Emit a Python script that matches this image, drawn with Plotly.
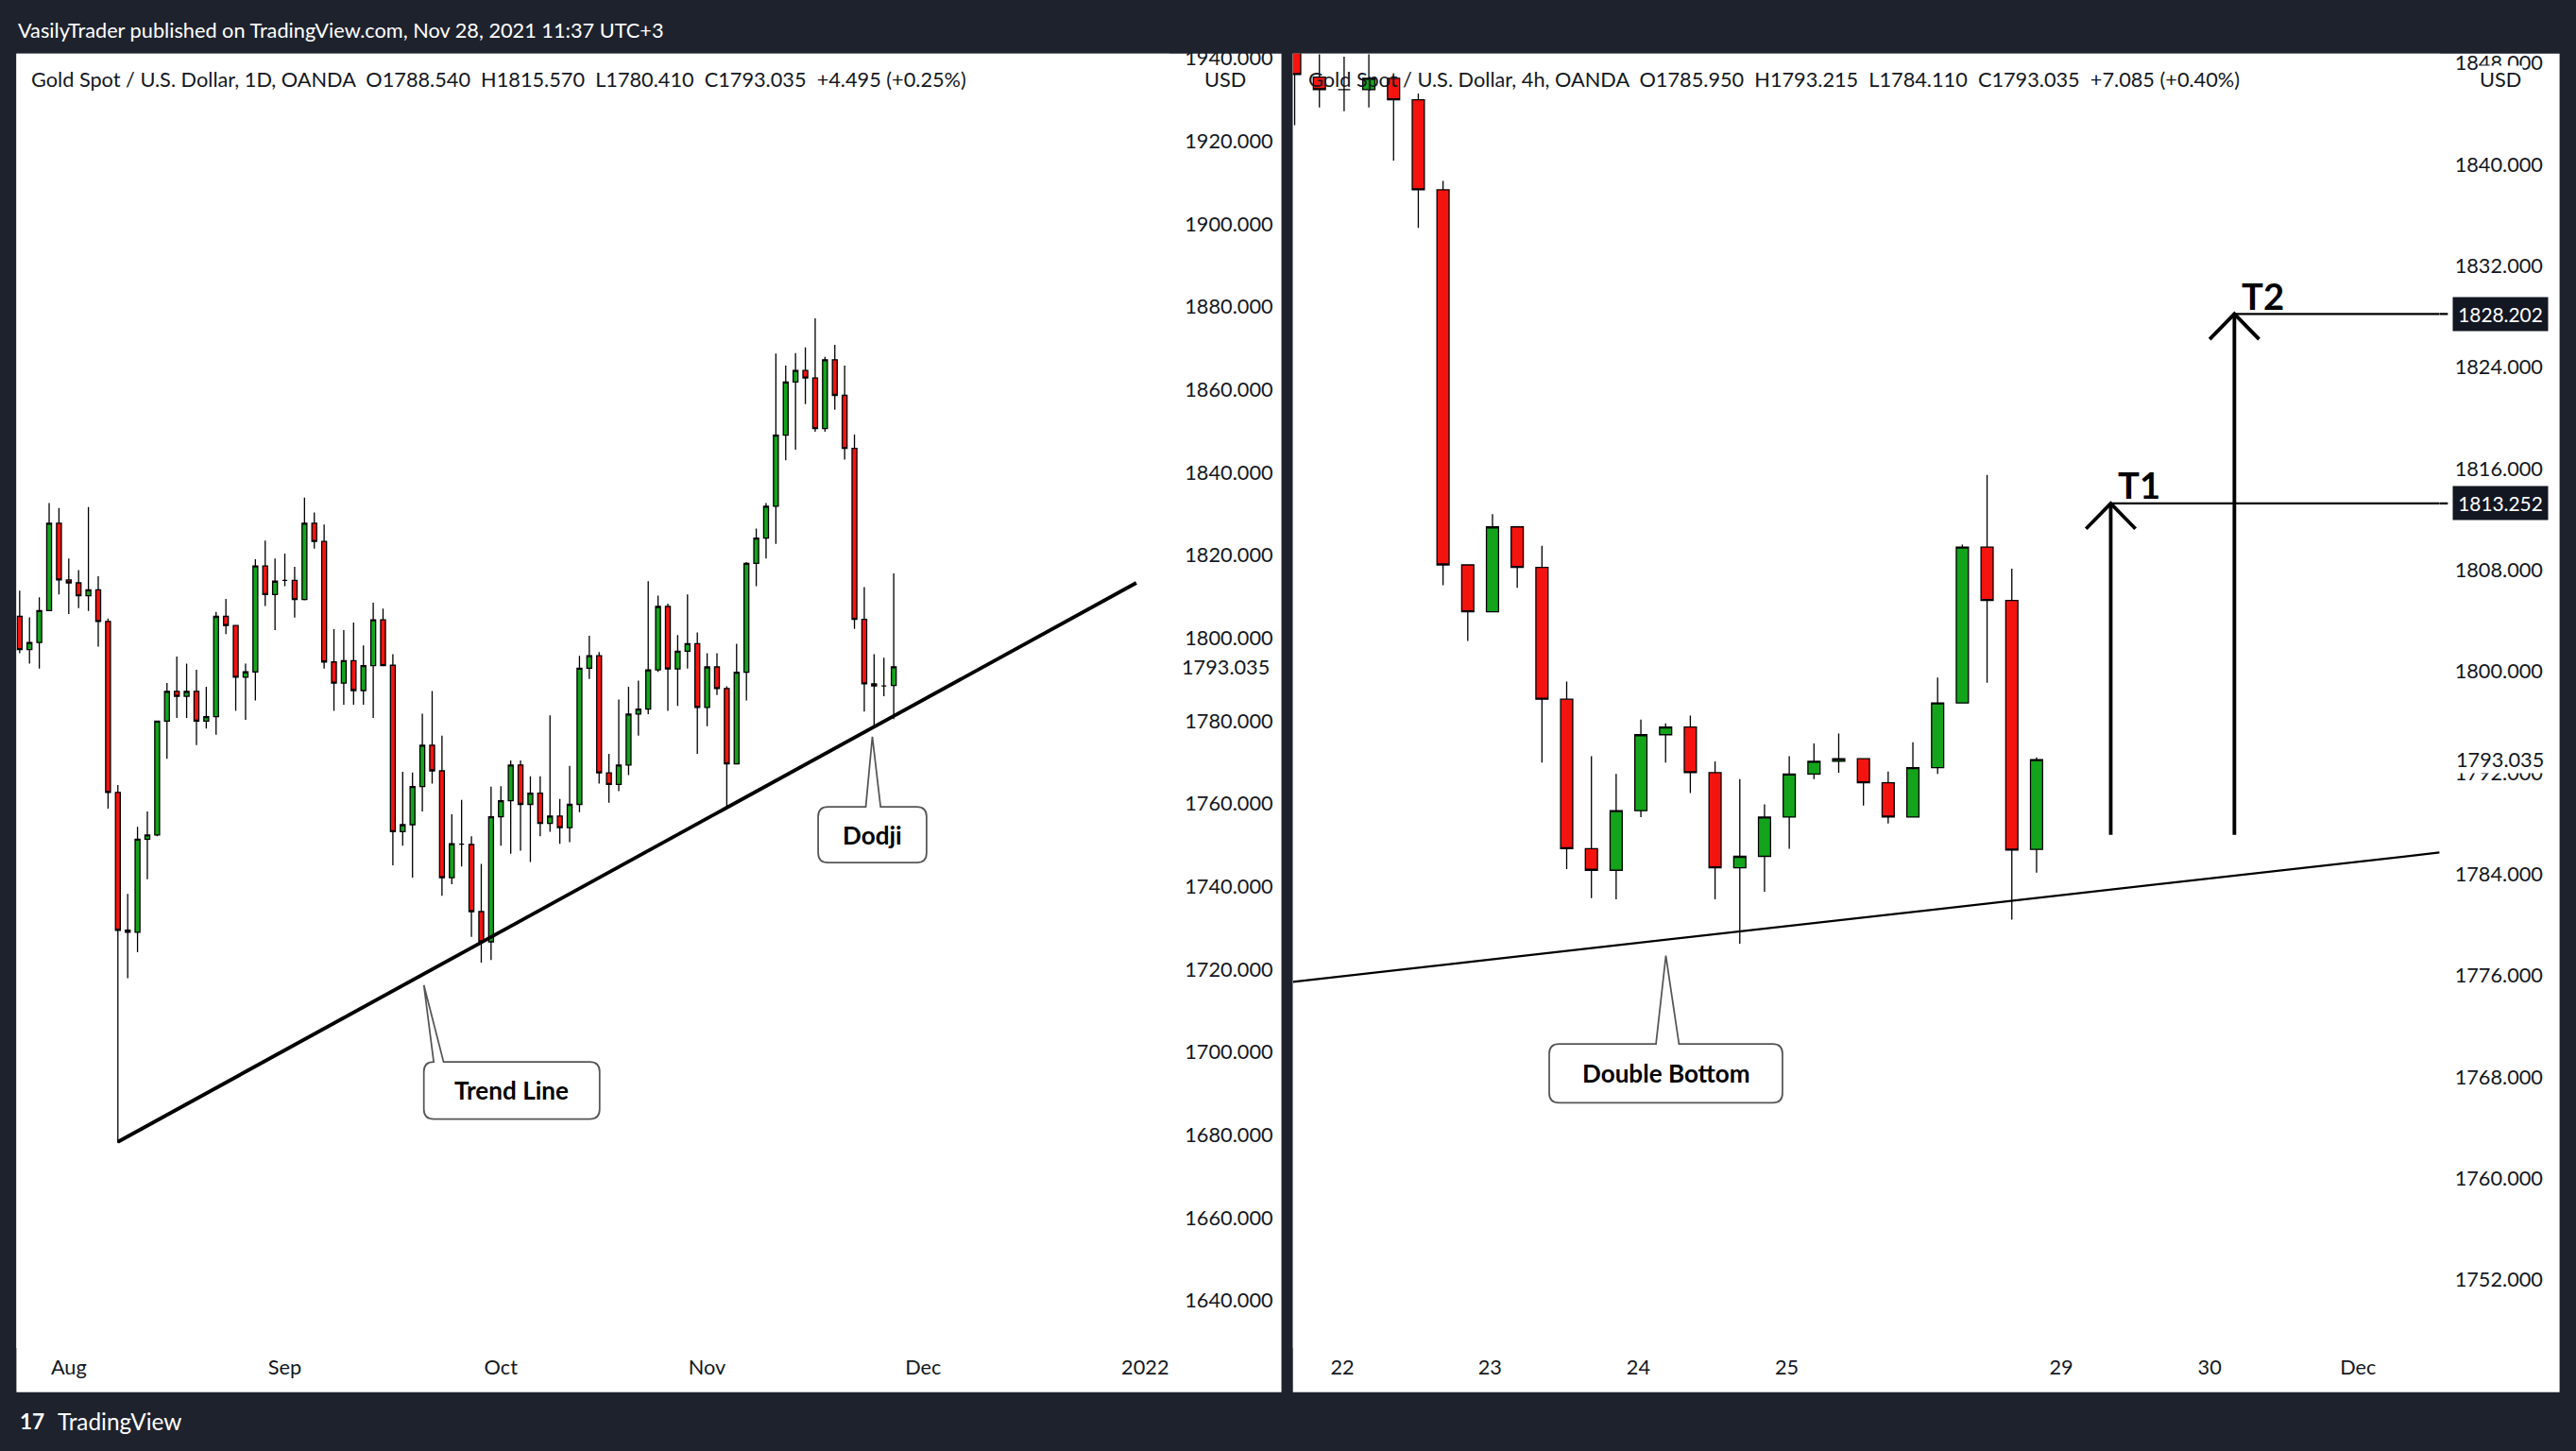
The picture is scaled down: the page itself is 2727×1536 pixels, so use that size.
import plotly.graph_objects as go

W, H = 2727, 1536
S = W / 1568.0
FONT = "Lato"
DARK = "#1e222d"
GREEN = "#13a41c"
RED = "#f4140f"
TXT = "#131722"

# ---------------- Daily data (Gold Spot, 1D) ----------------
d_open = [1805.2,1797.2,1798.9,1806.6,1827.7,1814.0,1813.3,1810.2,1811.6,1804.0,
          1762.7,1729.4,1728.9,1751.4,1752.4,1779.9,1787.1,1785.9,1787.1,1779.9,
          1781.0,1805.2,1803.0,1790.5,1791.8,1817.4,1810.5,1813.9,1813.9,1809.3,
          1827.7,1823.3,1794.2,1789.1,1794.5,1787.3,1793.3,1804.4,1793.4,1753.2,
          1754.9,1764.1,1774.1,1767.9,1742.1,1750.2,1750.1,1733.9,1726.6,1756.8,
          1760.7,1769.3,1759.8,1762.5,1755.2,1757.0,1754.2,1759.8,1792.7,1795.7,
          1767.4,1764.6,1769.3,1781.6,1782.8,1792.3,1807.6,1792.5,1796.8,1798.6,
          1783.2,1793.0,1787.8,1769.6,1791.7,1818.0,1824.1,1831.8,1849.0,1861.8,
          1864.6,1862.8,1850.6,1867.2,1858.6,1845.8,1804.5,1788.9,1788.4,1788.54]
d_high = [1811.4,1805.0,1809.8,1832.6,1831.4,1819.2,1816.4,1831.6,1814.9,1804.7,
          1764.5,1738.2,1754.4,1758.1,1779.9,1789.1,1795.5,1793.8,1792.3,1788.2,
          1806.3,1809.4,1803.0,1793.8,1819.0,1823.5,1819.2,1820.4,1817.2,1833.9,
          1830.3,1827.4,1802.1,1801.9,1803.7,1798.2,1808.5,1807.1,1796.1,1767.7,
          1767.5,1781.7,1787.2,1776.4,1757.4,1760.9,1752.1,1745.4,1764.1,1764.2,
          1770.4,1770.4,1766.6,1766.6,1781.3,1761.1,1769.1,1795.7,1800.5,1796.6,
          1772.0,1785.1,1788.2,1789.7,1813.7,1810.2,1808.3,1800.7,1810.5,1801.3,
          1796.3,1796.3,1788.3,1798.6,1818.3,1826.4,1832.6,1868.7,1865.8,1868.8,
          1870.2,1877.2,1867.9,1870.8,1865.8,1849.1,1812.3,1796.1,1795.2,1815.57]
d_low = [1796.3,1793.8,1792.6,1806.6,1810.5,1805.8,1807.2,1806.5,1797.9,1758.8,
         1678.0,1717.8,1724.1,1741.7,1752.1,1770.8,1780.7,1780.7,1774.1,1778.1,
         1776.6,1800.9,1782.4,1780.2,1784.9,1807.7,1801.9,1812.5,1804.9,1809.1,
         1821.6,1792.6,1782.4,1783.9,1783.9,1783.9,1780.7,1793.3,1745.1,1749.8,
         1742.1,1758.1,1764.8,1737.7,1740.5,1744.8,1727.8,1721.6,1722.2,1749.8,
         1747.9,1748.6,1745.9,1752.1,1753.2,1750.3,1750.7,1757.9,1790.1,1764.8,
         1760.2,1763.0,1766.9,1776.4,1781.6,1791.8,1782.4,1783.6,1792.6,1772.0,
         1778.7,1786.2,1758.8,1769.6,1784.9,1812.5,1819.2,1822.7,1842.9,1845.5,
         1856.5,1849.8,1849.8,1855.1,1843.1,1802.2,1782.2,1778.7,1785.9,1780.41]
d_close = [1797.2,1798.9,1806.6,1827.7,1814.0,1813.3,1810.2,1811.6,1804.0,1762.7,
           1729.4,1728.9,1751.4,1752.4,1779.9,1787.1,1785.9,1787.1,1779.9,1781.0,
           1805.2,1803.0,1790.5,1791.8,1817.4,1810.5,1813.7,1813.9,1809.3,1827.7,
           1823.3,1794.2,1789.1,1794.5,1787.3,1793.3,1804.4,1793.3,1753.2,1754.9,
           1764.1,1774.1,1767.9,1742.1,1750.3,1750.2,1733.9,1726.6,1756.8,1760.7,
           1769.3,1759.8,1762.5,1755.2,1757.0,1754.2,1759.8,1792.7,1795.7,1767.4,
           1764.6,1769.3,1781.6,1782.8,1792.3,1807.6,1792.5,1796.8,1798.6,1783.2,
           1793.0,1787.8,1769.6,1791.7,1818.0,1824.1,1831.8,1849.0,1861.8,1864.6,
           1862.8,1850.6,1867.2,1858.6,1845.8,1804.5,1788.9,1788.4,1788.4,1793.035]
d_ticks_pos = [5, 27, 49, 70, 92, 114.6]
d_ticks_txt = ["Aug", "Sep", "Oct", "Nov", "Dec", "2022"]
d_price_ticks = list(range(1640, 1941, 20))

# ---------------- 4h data ----------------
h_open = [1850.0,1846.9,1845.9,1845.9,1846.8,1845.1,1838.0,1808.4,1804.7,1811.4,
          1808.2,1797.8,1786.0,1784.3,1789.0,1795.0,1795.6,1792.0,1784.5,1785.4,
          1788.5,1791.9,1792.9,1793.1,1791.2,1788.5,1792.4,1797.5,1809.8,1805.6,1785.95]
h_high = [1851.0,1848.7,1848.5,1848.7,1847.0,1845.6,1838.7,1808.4,1812.4,1811.4,
          1809.9,1799.2,1793.3,1791.9,1796.2,1795.9,1796.5,1792.9,1791.5,1789.5,
          1793.3,1794.3,1795.1,1793.1,1792.1,1794.4,1799.5,1810.0,1815.5,1808.1,1793.215]
h_low = [1843.1,1844.5,1844.2,1844.5,1840.3,1835.0,1806.8,1802.4,1804.7,1806.6,
         1792.8,1784.4,1782.1,1782.0,1788.5,1792.8,1790.4,1782.0,1778.5,1782.6,
         1786.0,1791.5,1792.0,1789.4,1788.0,1788.5,1791.9,1797.5,1799.1,1780.4,1784.11]
h_close = [1847.1,1845.9,1845.9,1846.8,1845.1,1838.0,1808.4,1804.7,1811.4,1808.2,
           1797.8,1786.0,1784.3,1789.0,1795.0,1795.6,1792.0,1784.5,1785.4,1788.5,
           1791.9,1792.9,1793.1,1791.2,1788.5,1792.4,1797.5,1809.8,1805.6,1785.9,1793.035]
h_ticks_pos = [1.93, 7.9, 13.9, 19.9, 31.0, 37.0, 43.0]
h_ticks_txt = ["22", "23", "24", "25", "29", "30", "Dec"]
h_price_ticks = list(range(1752, 1849, 8))

# drawings
d_trend = [(10.0, 1678.3), (113.7, 1813.3)]
h_trend = [(-0.07, 1775.5), (46.3, 1785.7)]
targets = [("T1", 33.0, 1787.1, 1813.252), ("T2", 38.0, 1787.1, 1828.202)]


def px(x):
    return x / 1568.0


def py(y):
    return 1 - y / 883.0


fig = go.Figure()
common = dict(whiskerwidth=0, showlegend=False, hoverinfo="skip",
              increasing=dict(line=dict(color="black", width=1.3), fillcolor=GREEN),
              decreasing=dict(line=dict(color="black", width=1.3), fillcolor=RED))
fig.add_trace(go.Candlestick(x=list(range(len(d_open))), open=d_open, high=d_high,
                             low=d_low, close=d_close, xaxis="x", yaxis="y", **common))
fig.add_trace(go.Candlestick(x=list(range(len(h_open))), open=h_open, high=h_high,
                             low=h_low, close=h_close, xaxis="x2", yaxis="y2", **common))

tf = dict(family=FONT, size=12.5 * S, color=TXT)
ax_common = dict(showgrid=False, zeroline=False, showline=False, ticks="",
                 tickfont=tf, rangeslider=dict(visible=False), fixedrange=True,
                 ticklabelstandoff=int(3 * S))
ydom = [py(820), py(28)]
fig.update_layout(
    width=W, height=H, margin=dict(l=0, r=0, t=0, b=0),
    paper_bgcolor=DARK, plot_bgcolor="white",
    xaxis=dict(domain=[px(10), px(712)], range=[-0.33, 117.1], tickvals=d_ticks_pos,
               ticktext=d_ticks_txt, anchor="y", **ax_common),
    yaxis=dict(domain=ydom, range=[1628.5, 1941.2], side="right", anchor="x",
               tickvals=d_price_ticks, ticktext=["%.3f" % v for v in d_price_ticks],
               showgrid=False, zeroline=False, ticks="", tickfont=tf, ticklabelstandoff=int(9 * S)),
    xaxis2=dict(domain=[px(787), px(1485)], range=[-0.07, 46.3], tickvals=h_ticks_pos,
                ticktext=h_ticks_txt, anchor="y2", **ax_common),
    yaxis2=dict(domain=ydom, range=[1746.6, 1848.77], side="right", anchor="x2",
                tickvals=h_price_ticks, ticktext=["%.3f" % v for v in h_price_ticks],
                showgrid=False, zeroline=False, ticks="", tickfont=tf, ticklabelstandoff=int(9 * S)),
)

shapes = []
shapes.append(dict(type="rect", xref="paper", yref="paper", x0=px(10), x1=px(780),
                   y0=py(847), y1=py(28), fillcolor="white", line_width=0, layer="below"))
shapes.append(dict(type="rect", xref="paper", yref="paper", x0=px(787), x1=px(1558),
                   y0=py(847), y1=py(28), fillcolor="white", line_width=0, layer="below"))
shapes.append(dict(type="rect", xref="paper", yref="paper", x0=0, x1=1, y0=py(28), y1=1,
                   fillcolor=DARK, line_width=0, layer="above"))

shapes.append(dict(type="line", xref="x", yref="y", x0=d_trend[0][0], y0=d_trend[0][1],
                   x1=d_trend[1][0], y1=d_trend[1][1], line=dict(color="black", width=2.2 * S)))
shapes.append(dict(type="line", xref="x2", yref="y2", x0=h_trend[0][0], y0=h_trend[0][1],
                   x1=h_trend[1][0], y1=h_trend[1][1], line=dict(color="black", width=1.3 * S)))

annotations = []
for name, xi, y0, y1 in targets:
    shapes.append(dict(type="line", xref="x2", yref="y2", x0=xi, x1=xi, y0=y0, y1=y1,
                       line=dict(color="black", width=2.2 * S)))
    shapes.append(dict(type="path", xref="x2", yref="y2",
                       path="M %f,%f L %f,%f L %f,%f" % (xi - 1, y1 - 2.0, xi, y1, xi + 1, y1 - 2.0),
                       line=dict(color="black", width=2.2 * S)))
    shapes.append(dict(type="line", xref="x2", yref="y2", x0=xi, x1=46.3, y0=y1, y1=y1,
                       line=dict(color="black", width=1.3 * S)))
    shapes.append(dict(type="line", xref="paper", yref="y2", x0=px(1485), x1=px(1490), y0=y1, y1=y1,
                       line=dict(color="black", width=1.3 * S)))
    annotations.append(dict(xref="x2", yref="y2", x=xi + 0.2, y=y1 - 0.4, text="<b>%s</b>" % name,
                            showarrow=False, xanchor="left", yanchor="bottom",
                            font=dict(family=FONT, size=22 * S, color="black")))
    annotations.append(dict(xref="paper", yref="y2", x=px(1522), y=y1, text="%.3f" % y1,
                            showarrow=False, bgcolor="#131722", borderpad=3 * S,
                            xanchor="center", yanchor="middle",
                            font=dict(family=FONT, size=12 * S, color="white")))


def callout(x0, y0, x1, y1, ax, ay, bl, br, r=6):
    p = "M %f,%f " % (px(x0 + r), py(y0))
    p += "L %f,%f L %f,%f L %f,%f " % (px(bl), py(y0), px(ax), py(ay), px(br), py(y0))
    p += "L %f,%f Q %f,%f %f,%f " % (px(x1 - r), py(y0), px(x1), py(y0), px(x1), py(y0 + r))
    p += "L %f,%f Q %f,%f %f,%f " % (px(x1), py(y1 - r), px(x1), py(y1), px(x1 - r), py(y1))
    p += "L %f,%f Q %f,%f %f,%f " % (px(x0 + r), py(y1), px(x0), py(y1), px(x0), py(y1 - r))
    p += "L %f,%f Q %f,%f %f,%f Z" % (px(x0), py(y0 + r), px(x0), py(y0), px(x0 + r), py(y0))
    return dict(type="path", xref="paper", yref="paper", path=p, fillcolor="white",
                line=dict(color="#555555", width=1 * S))


for (x0, y0, x1, y1, ax, ay, bl, br, label) in [
        (258, 645, 365, 680, 258, 598, 264, 270, "Trend Line"),
        (498, 489, 564, 523, 531, 446, 527, 536, "Dodji"),
        (943, 634, 1085, 670, 1014, 580, 1008, 1022, "Double Bottom")]:
    shapes.append(callout(x0, y0, x1, y1, ax, ay, bl, br))
    annotations.append(dict(xref="paper", yref="paper", x=px((x0 + x1) / 2), y=py((y0 + y1) / 2),
                            text="<b>%s</b>" % label, showarrow=False,
                            xanchor="center", yanchor="middle",
                            font=dict(family=FONT, size=15 * S, color="black")))

hdr = dict(family=FONT, size=12.5 * S, color=TXT)
M = dict(showarrow=False, yanchor="middle")
annotations += [
    dict(xref="paper", yref="paper", x=px(10), y=py(14), xanchor="left",
         text="VasilyTrader published on TradingView.com, Nov 28, 2021 11:37 UTC+3",
         font=dict(family=FONT, size=12.5 * S, color="white"), **M),
    dict(xref="paper", yref="paper", x=px(18), y=py(44), xanchor="left",
         text="Gold Spot / U.S. Dollar, 1D, OANDA  O1788.540  H1815.570  L1780.410  C1793.035  +4.495 (+0.25%)",
         font=hdr, **M),
    dict(xref="paper", yref="paper", x=px(795), y=py(44), xanchor="left",
         text="Gold Spot / U.S. Dollar, 4h, OANDA  O1785.950  H1793.215  L1784.110  C1793.035  +7.085 (+0.40%)",
         font=hdr, **M),
    dict(xref="paper", yref="paper", x=px(746), y=py(44), xanchor="center", text="USD", font=hdr,
         bgcolor="white", **M),
    dict(xref="paper", yref="paper", x=px(1522), y=py(44), xanchor="center", text="USD", font=hdr,
         bgcolor="white", **M),
    dict(xref="paper", yref="y", x=px(746), y=1793.035, xanchor="center", text="1793.035",
         bgcolor="white", font=tf, **M),
    dict(xref="paper", yref="y2", x=px(1522), y=1793.035, xanchor="center", text="1793.035",
         bgcolor="white", font=tf, **M),
    dict(xref="paper", yref="paper", x=px(34), y=py(865), xanchor="left",
         text="TradingView", font=dict(family=FONT, size=14 * S, color="white"), **M),
    dict(xref="paper", yref="paper", x=px(11), y=py(865), xanchor="left",
         text="<b>17</b>", font=dict(family=FONT, size=13 * S, color="white"), **M),
]

fig.update_layout(shapes=shapes, annotations=annotations)
fig.write_html("out.html", config={"displayModeBar": False},
               post_script="document.body.style.margin='0';document.body.style.overflow='hidden';")
